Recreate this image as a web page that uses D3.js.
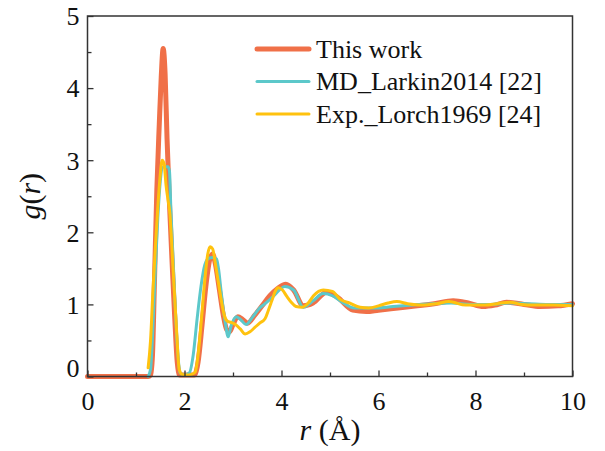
<!DOCTYPE html>
<html>
<head>
<meta charset="utf-8">
<script src="https://cdn.jsdelivr.net/npm/d3@7"></script>
</head>
<body style="margin:0">
<svg id="fig" width="605" height="451"></svg>
<script>
// ---- data ----
const seriesNames = ["This work", "MD_Larkin2014 [22]", "Exp._Lorch1969 [24]"];

const rThisWork = [0, 1.25, 1.30, 1.34, 1.38, 1.43, 1.48, 1.52, 1.56, 1.60, 1.64, 1.69, 1.75, 1.80, 1.85, 1.90, 2.20, 2.28, 2.36, 2.44, 2.52, 2.58, 2.64, 2.72, 2.80, 2.87, 2.93, 3.00, 3.10, 3.20, 3.30, 3.45, 3.60, 3.76, 3.92, 4.09, 4.25, 4.45, 4.65, 4.93, 5.15, 5.47, 5.75, 6.00, 6.40, 6.80, 7.15, 7.54, 7.85, 8.16, 8.40, 8.64, 9.00, 9.33, 9.70, 10.0];
const gThisWork = [0, 0, 0.02, 0.3, 1.3, 2.6, 3.5, 4.15, 4.55, 4.2, 3.3, 2.4, 1.5, 0.8, 0.2, 0.02, 0.02, 0.2, 0.7, 1.25, 1.62, 1.70, 1.55, 1.2, 0.85, 0.65, 0.62, 0.72, 0.83, 0.79, 0.74, 0.85, 0.98, 1.12, 1.22, 1.28, 1.2, 0.98, 1.02, 1.17, 1.1, 0.92, 0.90, 0.92, 0.95, 0.98, 1.01, 1.05, 1.02, 0.97, 0.99, 1.03, 1.0, 0.97, 0.98, 1.01];

const rLarkin = [1.25, 1.30, 1.35, 1.40, 1.45, 1.50, 1.54, 1.60, 1.66, 1.69, 1.72, 1.76, 1.80, 1.85, 1.91, 2.00, 2.10, 2.18, 2.26, 2.34, 2.42, 2.50, 2.58, 2.66, 2.70, 2.76, 2.84, 2.90, 2.96, 3.07, 3.17, 3.27, 3.40, 3.55, 3.66, 3.83, 4.07, 4.25, 4.45, 4.65, 4.86, 5.05, 5.25, 5.50, 5.90, 6.30, 6.70, 7.10, 7.50, 7.90, 8.30, 8.70, 9.10, 9.50, 10.0];
const gLarkin = [0, 0.1, 0.7, 1.5, 2.2, 2.7, 2.9, 2.91, 2.91, 2.85, 2.3, 1.7, 1.1, 0.45, 0.05, 0.02, 0.05, 0.3, 0.8, 1.25, 1.55, 1.64, 1.65, 1.63, 1.5, 1.15, 0.75, 0.55, 0.7, 0.83, 0.78, 0.72, 0.82, 0.95, 1.01, 1.11, 1.25, 1.2, 0.96, 1.05, 1.15, 1.12, 1.03, 0.95, 0.95, 0.97, 0.99, 1.01, 1.02, 1.0, 1.0, 1.02, 1.01, 1.0, 1.0];

const rLorch = [1.25, 1.30, 1.35, 1.40, 1.45, 1.50, 1.54, 1.58, 1.62, 1.66, 1.70, 1.74, 1.78, 1.84, 1.89, 1.95, 2.05, 2.15, 2.22, 2.28, 2.35, 2.42, 2.48, 2.53, 2.58, 2.64, 2.70, 2.76, 2.82, 2.88, 2.96, 3.05, 3.15, 3.25, 3.35, 3.45, 3.55, 3.66, 3.73, 3.80, 3.87, 3.93, 4.02, 4.11, 4.20, 4.30, 4.42, 4.55, 4.66, 4.86, 5.05, 5.21, 5.40, 5.62, 5.80, 6.00, 6.20, 6.38, 6.60, 6.90, 7.20, 7.45, 7.80, 8.20, 8.45, 8.71, 8.95, 9.20, 9.60, 10.0];
const gLorch = [0.12, 0.5, 1.2, 1.8, 2.35, 2.8, 3.0, 2.95, 2.65, 2.45, 2.25, 1.8, 1.3, 0.6, 0.1, 0.03, 0.02, 0.03, 0.06, 0.3, 0.8, 1.35, 1.7, 1.8, 1.77, 1.55, 1.3, 1.05, 0.85, 0.77, 0.75, 0.72, 0.66, 0.59, 0.62, 0.68, 0.74, 0.8, 0.92, 1.05, 1.18, 1.23, 1.2, 1.11, 1.03, 0.97, 0.96, 1.02, 1.12, 1.2, 1.18, 1.07, 1.02, 0.96, 0.95, 0.98, 1.02, 1.04, 1.01, 0.99, 1.01, 1.04, 0.99, 0.99, 1.01, 1.03, 1.0, 0.99, 0.99, 0.98];

const xTicks = [0, 2, 4, 6, 8, 10];
const xMinorTicks = [1, 3, 5, 7, 9];
const yTicks = [0, 1, 2, 3, 4, 5];
const yMinorTicks = [0.5, 1.5, 2.5, 3.5, 4.5];

// ---- layout ----
const FONT_STACK = "'Liberation Serif', Tinos, 'Nimbus Roman', FreeSerif, 'Times New Roman', serif";
const svg = d3.select("#fig");
const pLeft = 87.5, pRight = 572.5, pTop = 16, pBottom = 376.5;
const x = d3.scaleLinear().domain([0, 10]).range([pLeft, pRight]);
const y = d3.scaleLinear().domain([0, 5]).range([pBottom, pTop]);

const series = [
  { name: seriesNames[0], r: rThisWork, g: gThisWork, color: "#F07048", width: 5 },
  { name: seriesNames[1], r: rLarkin, g: gLarkin, color: "#5CC8CA", width: 3 },
  { name: seriesNames[2], r: rLorch, g: gLorch, color: "#FFC20E", width: 3 }
];

const line = d3.line()
  .x(d => x(d[0]))
  .y(d => y(d[1]))
  .curve(d3.curveMonotoneX);

const plot = svg.append("g");
series.forEach(s => {
  const pts = s.r.map((rv, i) => [rv, s.g[i]]);
  plot.append("path")
    .attr("d", line(pts))
    .attr("fill", "none")
    .attr("stroke", s.color)
    .attr("stroke-width", s.width)
    .attr("stroke-linejoin", "round")
    .attr("stroke-linecap", "round");
});

// ---- axes ----
const axisColor = "#333";
const fmt = d3.format("d");
const xAxis = svg.append("g").attr("transform", `translate(0,${pBottom})`)
  .call(d3.axisBottom(x).tickValues(xTicks).tickFormat(fmt).tickSizeInner(-6).tickSizeOuter(0).tickPadding(15));
const xMinor = svg.append("g").attr("transform", `translate(0,${pBottom})`)
  .call(d3.axisBottom(x).tickValues(xMinorTicks).tickSizeInner(-4).tickSizeOuter(0).tickFormat(""));
const yAxis = svg.append("g").attr("transform", `translate(${pLeft},0)`)
  .call(d3.axisLeft(y).tickValues(yTicks).tickFormat(fmt).tickSizeInner(-6).tickSizeOuter(0).tickPadding(8));
const yMinor = svg.append("g").attr("transform", `translate(${pLeft},0)`)
  .call(d3.axisLeft(y).tickValues(yMinorTicks).tickSizeInner(-4).tickSizeOuter(0).tickFormat(""));

[xAxis, xMinor, yAxis, yMinor].forEach(a => {
  a.attr("font-family", null).attr("font-size", 26);
  a.select(".domain").remove();
  a.selectAll("line").attr("stroke", axisColor).attr("stroke-width", 1.3);
  a.selectAll("text").attr("fill", "#111");
});
xAxis.selectAll("text").attr("dy", "0.71em");
yAxis.selectAll("text").attr("dy", "0.34em");
// the "0" of the y axis sits slightly above its tick
yAxis.selectAll(".tick").filter(d => d === 0).select("text").attr("dy", "0.0em");

// frame
svg.append("rect")
  .attr("x", pLeft).attr("y", pTop)
  .attr("width", pRight - pLeft).attr("height", pBottom - pTop)
  .attr("fill", "none").attr("stroke", axisColor).attr("stroke-width", 1.5);

// ---- axis titles ----
const xt = svg.append("text")
  .attr("x", (pLeft + pRight) / 2).attr("y", 440)
  .attr("text-anchor", "middle")
  .attr("font-size", 30).attr("fill", "#111");
xt.append("tspan").attr("font-style", "italic").text("r");
xt.append("tspan").text(" (Å)");

const yt = svg.append("text")
  .attr("transform", `translate(40,${(pTop + pBottom) / 2}) rotate(-90)`)
  .attr("text-anchor", "middle")
  .attr("font-size", 30).attr("fill", "#111");
yt.append("tspan").attr("font-style", "italic").text("g");
yt.append("tspan").text("(");
yt.append("tspan").attr("font-style", "italic").text("r");
yt.append("tspan").text(")");

// ---- legend ----
const legY = d3.scalePoint().domain(seriesNames).range([49, 114]);
const leg = svg.append("g");
series.forEach(s => {
  const yy = legY(s.name);
  leg.append("line")
    .attr("x1", 257).attr("x2", 309).attr("y1", yy).attr("y2", yy)
    .attr("stroke", s.color).attr("stroke-width", s.width)
    .attr("stroke-linecap", "round");
  leg.append("text")
    .attr("x", 316).attr("y", yy).attr("dy", "0.33em")
    .attr("font-size", 26).attr("fill", "#111")
    .text(s.name);
});

// apply the serif font to every text, inline and important
svg.selectAll("text, tspan").each(function () {
  this.setAttribute("font-family", "Liberation Serif");
  this.style.setProperty("font-family", FONT_STACK, "important");
});
</script>
</body>
</html>
